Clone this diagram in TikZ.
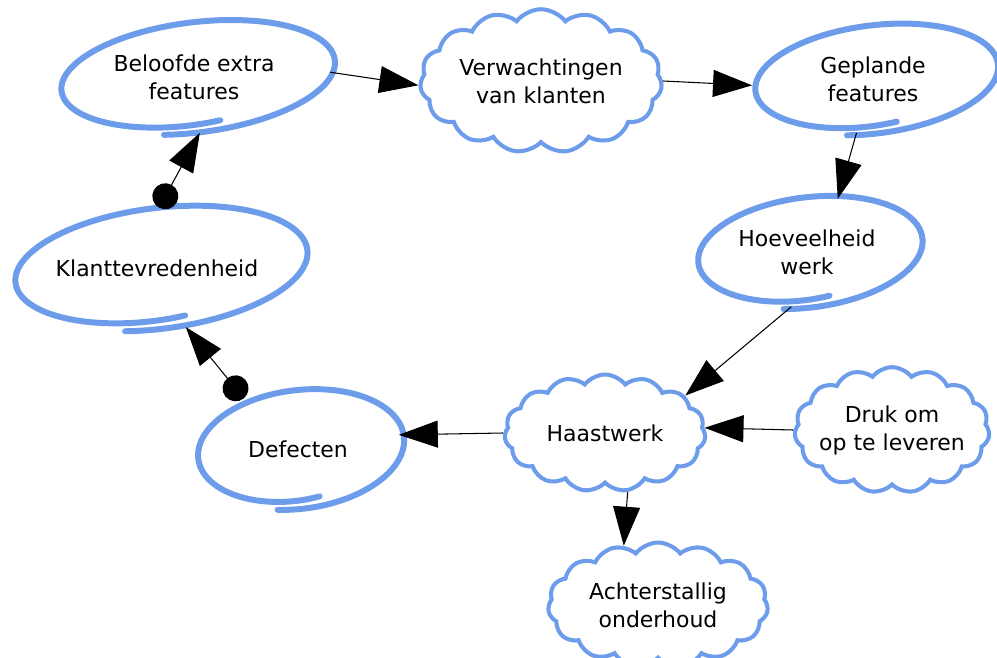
\documentclass[tikz,border=0pt]{standalone}
\usepackage{fontspec}
\setmainfont{DejaVu Sans}
\usetikzlibrary{shapes.geometric, shapes.symbols, arrows.meta}
\definecolor{penblue}{RGB}{108,156,234}
\tikzstyle{bubble} = [ellipse, inner sep=0pt, align=center, font=\fontsize{12.5}{16}\selectfont]
\tikzstyle{cloudy} = [cloud, cloud puffs=15, cloud puff arc=105, aspect=1.6, inner sep=-6pt, draw=penblue, line width=2.3pt, align=center, font=\fontsize{12.5}{16}\selectfont]
\tikzstyle{penline} = [draw=penblue, line width=3.4pt, line cap=round]
\tikzstyle{arrow} = [line width=0.6pt, -{Triangle[length=0.78cm, width=0.54cm]}]
\tikzstyle{negarrow} = [line width=0.6pt, {Circle[length=0.52cm]}-{Triangle[length=0.78cm, width=0.54cm]}]

% hand drawn ring round a node: name, rx, ry
\newcommand{\penring}[3]{%
  \draw [penline, shift={(#1.center)}, rotate=7]
    plot [domain=-105:280, samples=90, smooth]
    ({#2*(1.07-0.17*((\x+105)/385)^3)*cos(\x)}, {#3*(1.07-0.17*((\x+105)/385)^3)*sin(\x)});
}

\begin{document}
\begin{tikzpicture}[x=0.02cm, y=0.02cm]
\useasboundingbox (0,0) rectangle (997,657);

\node (bel) [bubble, minimum width=5.46cm, minimum height=2.22cm] at (194,580) {Beloofde extra\\features};
\node (ver) [cloudy, minimum width=4.84cm, minimum height=2.84cm] at (541,576) {Verwachtingen\\van klanten};
\node (gep) [bubble, minimum width=4.86cm, minimum height=2.16cm] at (873,578) {Geplande\\features};
\node (hoe) [bubble, minimum width=4.5cm, minimum height=2.2cm] at (807,405) {Hoeveelheid\\werk};
\node (kla) [bubble, minimum width=5.8cm, minimum height=2.4cm] at (157,389) {Klanttevredenheid};
\node (def) [bubble, minimum width=4.14cm, minimum height=2.36cm] at (298,208) {Defecten};
\node (haa) [cloudy, minimum width=4.02cm, minimum height=2.34cm] at (605,224) {Haastwerk};
\node (dru) [cloudy, minimum width=3.9cm, minimum height=2.48cm] at (892,227) {Druk om\\op te leveren};
\node (ach) [cloudy, minimum width=4.4cm, minimum height=2.5cm] at (658,52) {Achterstallig\\onderhoud};

\penring{bel}{133}{52}
\penring{gep}{118}{51}
\penring{hoe}{109}{52}
\penring{kla}{142}{57}
\penring{def}{100}{56}

\draw [arrow] (bel.2) -- (ver.182);
\draw [arrow] (ver.0) -- (gep.183);
\draw [arrow] (gep.253) -- (hoe.60);
\draw [arrow] (hoe.254) -- (haa.25);
\draw [arrow] (dru.180) -- (haa.3);
\draw [arrow] (haa.180) -- (def.8);
\draw [arrow] (haa.-69) -- (ach.120);
\draw [negarrow] (def.137) -- (kla.-64);
\draw [negarrow] (kla.88) -- (bel.-84);

\end{tikzpicture}
\end{document}
